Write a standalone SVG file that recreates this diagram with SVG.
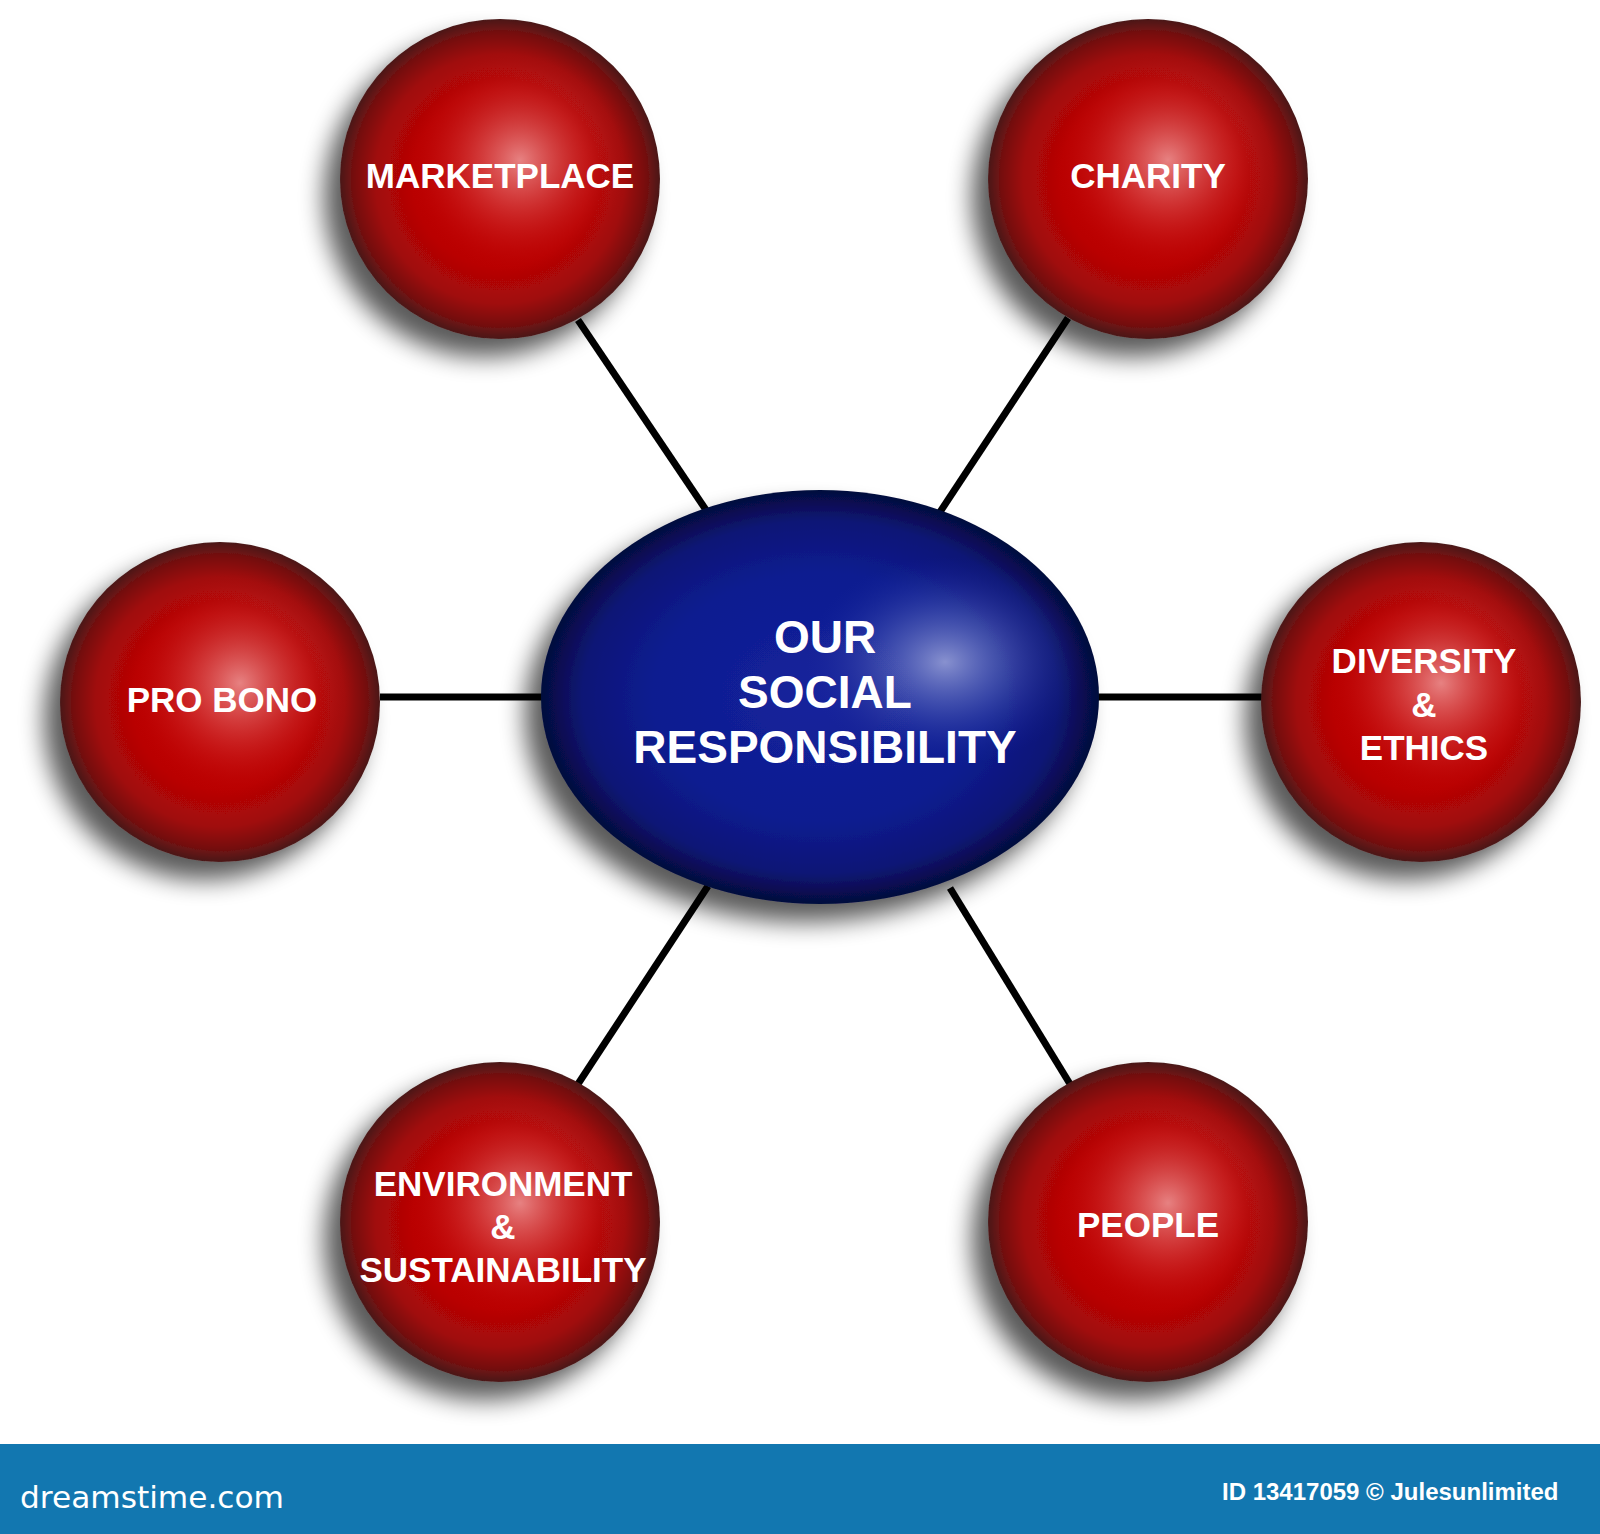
<svg xmlns="http://www.w3.org/2000/svg" width="1600" height="1534" viewBox="0 0 1600 1534">
  <defs>
    <radialGradient id="redBody" cx="0.5" cy="0.5" r="0.5">
      <stop offset="0" stop-color="#c60606"/>
      <stop offset="0.55" stop-color="#b90505"/>
      <stop offset="0.78" stop-color="#a00808"/>
      <stop offset="0.92" stop-color="#741010"/>
      <stop offset="1" stop-color="#4a1a1a"/>
    </radialGradient>
    <radialGradient id="redHi" cx="0.5" cy="0.5" r="0.5">
      <stop offset="0" stop-color="#f0a2a2" stop-opacity="0.8"/>
      <stop offset="0.4" stop-color="#e06a6a" stop-opacity="0.45"/>
      <stop offset="1" stop-color="#c00000" stop-opacity="0"/>
    </radialGradient>
    <radialGradient id="blueBody" cx="0.5" cy="0.5" r="0.5">
      <stop offset="0" stop-color="#14239c"/>
      <stop offset="0.6" stop-color="#0f1c90"/>
      <stop offset="0.85" stop-color="#0b1576"/>
      <stop offset="1" stop-color="#050a3c"/>
    </radialGradient>
    <radialGradient id="blueHi" cx="0.5" cy="0.5" r="0.5">
      <stop offset="0" stop-color="#9ea6da" stop-opacity="0.85"/>
      <stop offset="0.45" stop-color="#6a78c4" stop-opacity="0.45"/>
      <stop offset="1" stop-color="#1a2a9e" stop-opacity="0"/>
    </radialGradient>
    <filter id="shadow" x="-30%" y="-30%" width="160%" height="160%">
      <feGaussianBlur in="SourceAlpha" stdDeviation="12"/>
      <feOffset dx="-16" dy="18" result="b"/>
      <feComponentTransfer>
        <feFuncA type="linear" slope="0.65"/>
      </feComponentTransfer>
      <feMerge>
        <feMergeNode/>
        <feMergeNode in="SourceGraphic"/>
      </feMerge>
    </filter>
  </defs>
  <style>
    .conn { stroke: #000; stroke-width: 7; stroke-linecap: butt; }
    .lbl { font-family: "Liberation Sans", Arial, sans-serif; font-weight: bold; font-size: 35px; fill: #ffffff; text-anchor: middle; }
    .clbl { font-family: "Liberation Sans", Arial, sans-serif; font-weight: bold; font-size: 46px; fill: #ffffff; text-anchor: middle; }
    .red { fill: url(#redBody); filter: url(#shadow); }
    .hi { fill: url(#redHi); }
  </style>
  <rect x="0" y="0" width="1600" height="1534" fill="#ffffff"/>

  <g id="connectors">
    <line class="conn" x1="578" y1="320" x2="706" y2="510"/>
    <line class="conn" x1="1068" y1="318" x2="940" y2="512"/>
    <line class="conn" x1="380" y1="697" x2="545" y2="697"/>
    <line class="conn" x1="1097" y1="697" x2="1262" y2="697"/>
    <line class="conn" x1="708" y1="886" x2="578" y2="1084"/>
    <line class="conn" x1="950" y1="888" x2="1070" y2="1084"/>
  </g>

  <g id="node-center">
    <ellipse cx="820" cy="697" rx="279" ry="207" fill="url(#blueBody)" filter="url(#shadow)"/>
    <ellipse cx="945" cy="662" rx="140" ry="105" fill="url(#blueHi)"/>
    <text class="clbl" x="825" y="653">OUR</text>
    <text class="clbl" x="825" y="708">SOCIAL</text>
    <text class="clbl" x="825" y="763">RESPONSIBILITY</text>
  </g>

  <g id="node-marketplace">
    <circle class="red" cx="500" cy="179" r="160"/>
    <circle class="hi" cx="520" cy="160" r="115"/>
    <text class="lbl" x="500" y="188">MARKETPLACE</text>
  </g>

  <g id="node-charity">
    <circle class="red" cx="1148" cy="179" r="160"/>
    <circle class="hi" cx="1168" cy="160" r="115"/>
    <text class="lbl" x="1148" y="188">CHARITY</text>
  </g>

  <g id="node-probono">
    <circle class="red" cx="220" cy="702" r="160"/>
    <circle class="hi" cx="240" cy="683" r="115"/>
    <text class="lbl" x="222" y="712">PRO BONO</text>
  </g>

  <g id="node-diversity">
    <circle class="red" cx="1421" cy="702" r="160"/>
    <circle class="hi" cx="1441" cy="683" r="115"/>
    <text class="lbl" x="1424" y="673">DIVERSITY</text>
    <text class="lbl" x="1424" y="717">&amp;</text>
    <text class="lbl" x="1424" y="760">ETHICS</text>
  </g>

  <g id="node-environment">
    <circle class="red" cx="500" cy="1222" r="160"/>
    <circle class="hi" cx="520" cy="1203" r="115"/>
    <text class="lbl" x="503" y="1196">ENVIRONMENT</text>
    <text class="lbl" x="503" y="1239">&amp;</text>
    <text class="lbl" x="503" y="1282">SUSTAINABILITY</text>
  </g>

  <g id="node-people">
    <circle class="red" cx="1148" cy="1222" r="160"/>
    <circle class="hi" cx="1168" cy="1203" r="115"/>
    <text class="lbl" x="1148" y="1237">PEOPLE</text>
  </g>

  <g id="footer">
    <rect x="0" y="1444" width="1600" height="90" fill="#1277b0"/>
    <text x="20" y="1508" font-family="DejaVu Sans, sans-serif" font-size="31" fill="#ffffff" textLength="264" lengthAdjust="spacingAndGlyphs">dreamstime.com</text>
    <text x="1222" y="1500" font-family="Liberation Sans, Arial, sans-serif" font-weight="bold" font-size="24" fill="#ffffff">ID 13417059 © Julesunlimited</text>
  </g>
</svg>
